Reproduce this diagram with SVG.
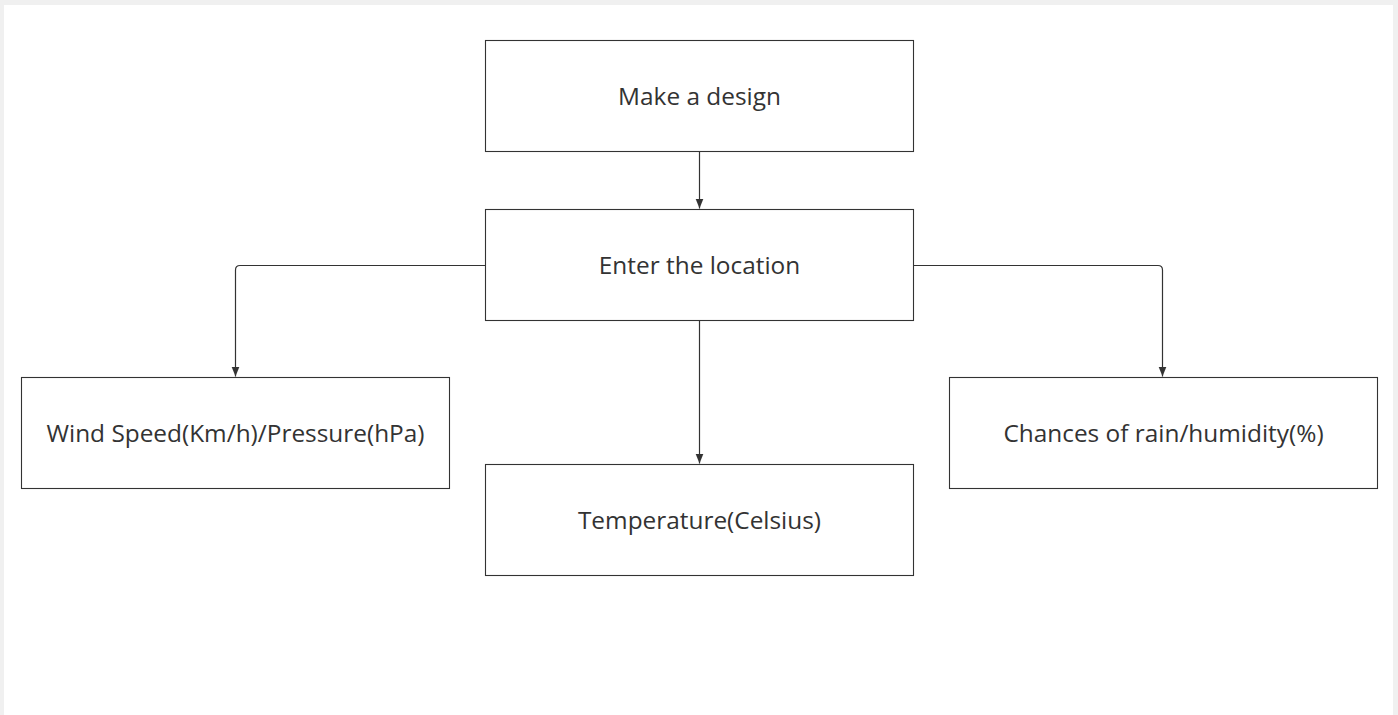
<svg xmlns="http://www.w3.org/2000/svg" width="1398" height="715" viewBox="0 0 1398 715">
<defs>
<style>
.box{fill:#ffffff;stroke:#333333;stroke-width:1.1}
.lbl{font-family:"Open Sans","Liberation Sans",sans-serif;font-size:24.4px;fill:#333333;text-anchor:middle;dominant-baseline:central}
.con{fill:none;stroke:#333333;stroke-width:1.2}
</style>
<marker id="arr" viewBox="0 0 10 10" refX="10" refY="5" markerWidth="10" markerHeight="10" markerUnits="userSpaceOnUse" orient="auto">
<path d="M0,1 L10,5 L0,9 z" fill="#333333"/>
</marker>
</defs>
<rect x="0" y="0" width="1398" height="715" fill="#f0f0f0"/>
<rect x="4" y="5" width="1389" height="710" fill="#ffffff"/>
<g id="connectors">
<path class="con" d="M699.5,151.5 V208.5" marker-end="url(#arr)"/>
<path class="con" d="M485.5,265.5 H240 Q235.5,265.5 235.5,270 V376.5" marker-end="url(#arr)"/>
<path class="con" d="M913.5,265.5 H1158 Q1162.5,265.5 1162.5,270 V376.5" marker-end="url(#arr)"/>
<path class="con" d="M699.5,320.5 V463.5" marker-end="url(#arr)"/>
</g>
<g id="node-design">
<rect class="box" x="485.5" y="40.5" width="428" height="111"/>
<text class="lbl" x="699.5" y="95">Make a design</text>
</g>
<g id="node-location">
<rect class="box" x="485.5" y="209.5" width="428" height="111"/>
<text class="lbl" x="699.5" y="264">Enter the location</text>
</g>
<g id="node-wind">
<rect class="box" x="21.5" y="377.5" width="428" height="111"/>
<text class="lbl" x="235.5" y="432">Wind Speed(Km/h)/Pressure(hPa)</text>
</g>
<g id="node-temperature">
<rect class="box" x="485.5" y="464.5" width="428" height="111"/>
<text class="lbl" x="699.5" y="519">Temperature(Celsius)</text>
</g>
<g id="node-rain">
<rect class="box" x="949.5" y="377.5" width="428" height="111"/>
<text class="lbl" x="1163.5" y="432">Chances of rain/humidity(%)</text>
</g>
</svg>
